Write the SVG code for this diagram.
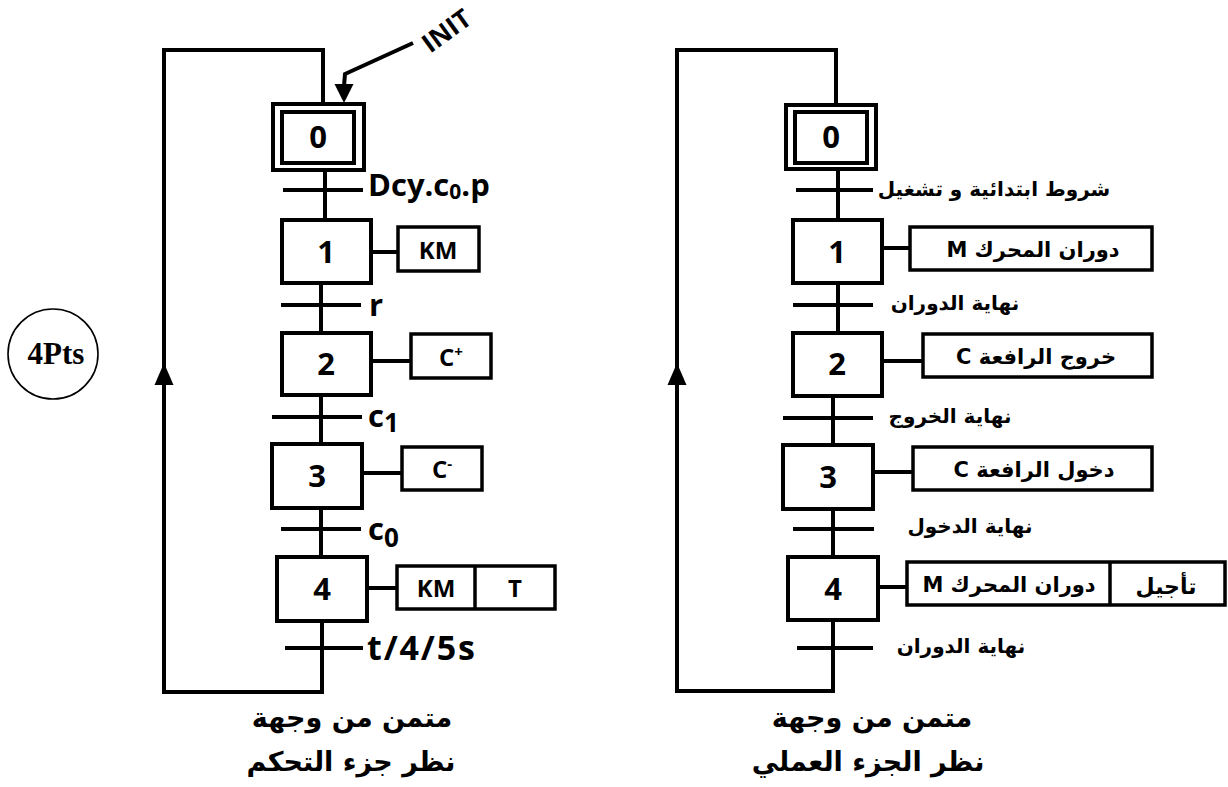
<svg xmlns="http://www.w3.org/2000/svg" width="1228" height="787" viewBox="0 0 1228 787">
<style>
.ln{fill:none;stroke:#000;stroke-width:4;stroke-linejoin:miter}
.bx{fill:#fff;stroke:#000;stroke-width:4}
.ab{fill:#fff;stroke:#000;stroke-width:3.5}
.num{font-family:"Open Sans","DejaVu Sans",sans-serif;font-weight:700;font-size:31px;text-anchor:middle}
.lat{font-family:"Open Sans","DejaVu Sans",sans-serif;font-weight:700;font-size:31px}
.act{font-family:"Open Sans","DejaVu Sans",sans-serif;font-weight:700;font-size:24px;text-anchor:middle}
.ar{font-family:"DejaVu Sans",sans-serif;font-weight:700;font-size:20px;text-anchor:middle}
.arb{font-family:"DejaVu Sans",sans-serif;font-weight:700;font-size:27px;text-anchor:middle}
</style>
<g id="connectors">
<path class="ln" d="M323,104 V50 H164 V692 H322 V621"/>
<path d="M164,363 L154.5,385 L173.5,385 z" fill="#000"/>
<path class="ln" d="M325,170 V220 M321,283 V333 M321,395 V444 M321,508 V557"/>
<path class="ln" d="M283,190 H363 M281,305 H361 M272,417 H362 M281,529 H361 M285,648 H363"/>
<path class="ln" d="M371,252 H398 M371,361 H411 M362,473 H402 M367,588 H397"/>
<path class="ln" d="M413,43 L345,74 L344,86"/>
<path d="M344,103 L334.5,84 L353.5,84 z" fill="#000"/>
<path class="ln" d="M836,105 V50 H677 V691 H833 V620"/>
<path d="M677,363 L667.5,385 L686.5,385 z" fill="#000"/>
<path class="ln" d="M838,169 V220 M838,283 V333 M833,396 V445 M833,509 V557"/>
<path class="ln" d="M796,190 H873 M793,305 H873 M783,418 H873 M793,529 H874 M797,648 H873"/>
<path class="ln" d="M882,248 H910 M882,361 H923 M873,472 H913 M878,587 H907"/>
</g>
<g id="init-label">
<text class="lat" text-anchor="middle" dominant-baseline="central" transform="translate(446,30) rotate(-36)" style="font-size:26px">INIT</text>
</g>
<g id="L-step0"><rect class="bx" x="273" y="104" width="91" height="66"/><rect class="bx" x="282" y="112" width="72" height="51"/><text class="num" x="318" y="148">0</text></g>
<g id="L-t0"><text class="lat" x="368" y="196">Dcy.c<tspan dy="3" style="font-size:21px">0</tspan><tspan dy="-3">.p</tspan></text></g>
<g id="L-step1"><rect class="bx" x="282" y="220" width="89" height="63"/><text class="num" x="326" y="263">1</text></g>
<g id="L-a1"><rect class="ab" x="398" y="227" width="81" height="44"/><text class="act" x="438" y="259">KM</text></g>
<g id="L-t1"><text class="lat" x="369" y="316">r</text></g>
<g id="L-step2"><rect class="bx" x="282" y="333" width="89" height="62"/><text class="num" x="326" y="375">2</text></g>
<g id="L-a2"><rect class="ab" x="411" y="334" width="80" height="44"/><text class="act" x="451" y="366">C<tspan dy="-9" style="font-size:15px">+</tspan></text></g>
<g id="L-t2"><text class="lat" x="368" y="427">c<tspan dy="5" style="font-size:26px">1</tspan></text></g>
<g id="L-step3"><rect class="bx" x="272" y="444" width="90" height="64"/><text class="num" x="317" y="487">3</text></g>
<g id="L-a3"><rect class="ab" x="402" y="447" width="80" height="43"/><text class="act" x="442" y="478">C<tspan dy="-9" style="font-size:15px">-</tspan></text></g>
<g id="L-t3"><text class="lat" x="368" y="540">c<tspan dy="7" style="font-size:26px">0</tspan></text></g>
<g id="L-step4"><rect class="bx" x="277" y="557" width="90" height="64"/><text class="num" x="322" y="600">4</text></g>
<g id="L-a4"><rect class="ab" x="397" y="566" width="158" height="43"/><line x1="475" y1="566" x2="475" y2="609" stroke="#000" stroke-width="3.5"/><text class="act" x="436" y="597">KM</text><text class="act" x="515" y="597">T</text></g>
<g id="L-t4"><text class="lat" x="367" y="660" textLength="108" style="font-size:34px">t/4/5s</text></g>
<g id="L-title"><text class="arb" x="352" y="727">متمن من وجهة</text><text class="arb" x="351" y="771">نظر جزء التحكم</text></g>
<g id="R-step0"><rect class="bx" x="786" y="105" width="90" height="64"/><rect class="bx" x="795" y="112" width="72" height="51"/><text class="num" x="831" y="148">0</text></g>
<g id="R-t0"><text class="ar" x="994" y="196">شروط ابتدائية و تشغيل</text></g>
<g id="R-step1"><rect class="bx" x="793" y="220" width="89" height="63"/><text class="num" x="837" y="263">1</text></g>
<g id="R-a1"><rect class="ab" x="910" y="227" width="242" height="43"/><text class="ar" x="1033" y="257" direction="rtl" style="font-size:21px">دوران المحرك M</text></g>
<g id="R-t1"><text class="ar" x="955" y="310">نهاية الدوران</text></g>
<g id="R-step2"><rect class="bx" x="793" y="333" width="89" height="63"/><text class="num" x="837" y="375">2</text></g>
<g id="R-a2"><rect class="ab" x="923" y="334" width="229" height="43"/><text class="ar" x="1036" y="364" direction="rtl" style="font-size:21px">خروج الرافعة C</text></g>
<g id="R-t2"><text class="ar" x="950" y="423">نهاية الخروج</text></g>
<g id="R-step3"><rect class="bx" x="783" y="445" width="90" height="64"/><text class="num" x="828" y="488">3</text></g>
<g id="R-a3"><rect class="ab" x="913" y="447" width="239" height="43"/><text class="ar" x="1034" y="477" direction="rtl" style="font-size:21px">دخول الرافعة C</text></g>
<g id="R-t3"><text class="ar" x="970" y="533">نهاية الدخول</text></g>
<g id="R-step4"><rect class="bx" x="788" y="557" width="90" height="63"/><text class="num" x="833" y="600">4</text></g>
<g id="R-a4"><rect class="ab" x="907" y="562" width="318" height="43"/><line x1="1110" y1="562" x2="1110" y2="605" stroke="#000" stroke-width="3.5"/><text class="ar" x="1009" y="592" direction="rtl" style="font-size:21px">دوران المحرك M</text><text class="ar" x="1166" y="594" style="font-size:22px">تأجيل</text></g>
<g id="R-t4"><text class="ar" x="961" y="653">نهاية الدوران</text></g>
<g id="R-title"><text class="arb" x="872" y="727">متمن من وجهة</text><text class="arb" x="868" y="771">نظر الجزء العملي</text></g>
<g id="score"><circle cx="53" cy="354" r="45" fill="#fff" stroke="#000" stroke-width="1.6"/><text x="56" y="364" text-anchor="middle" style="font-family:'Liberation Serif',serif;font-weight:700;font-size:31px">4Pts</text></g>
</svg>
